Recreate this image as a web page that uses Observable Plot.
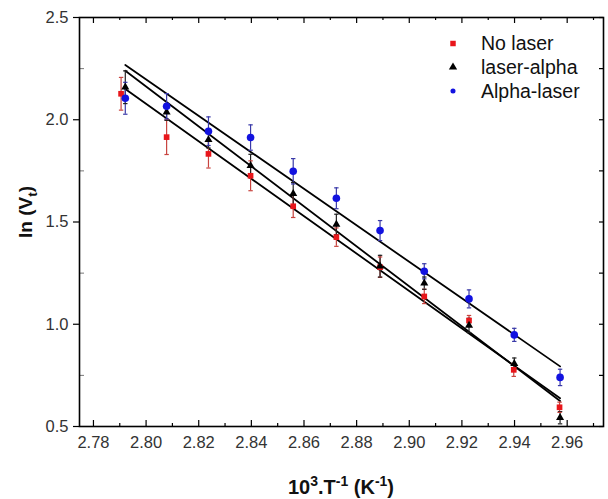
<!DOCTYPE html>
<html><head><meta charset="utf-8">
<script src="https://cdn.jsdelivr.net/npm/d3@7"></script>
<script src="https://cdn.jsdelivr.net/npm/@observablehq/plot@0.6"></script>
<style>
body{margin:0;background:#fff;}
#chart{width:608px;height:499px;}
</style></head><body><div id="chart"></div>
<script>
// ---- data ----
const seriesNames = ["No laser", "laser-alpha", "Alpha-laser"];
const invT = [2.7921, 2.8078, 2.8237, 2.8397, 2.8559, 2.8723, 2.8889, 2.9057, 2.9227, 2.9399, 2.9573];
const invTNoLaser = [2.7905, 2.8078, 2.8237, 2.8397, 2.8559, 2.8723, 2.8889, 2.9057, 2.9227, 2.9397, 2.9571];
const lnNoLaser = [2.127, 1.915, 1.833, 1.726, 1.577, 1.426, 1.279, 1.136, 1.018, 0.777, 0.594];
const errNoLaser = [0.080, 0.085, 0.069, 0.073, 0.055, 0.045, 0.050, 0.035, 0.025, 0.032, 0.025];
const lnLaserAlpha = [2.159, 2.037, 1.902, 1.776, 1.638, 1.488, 1.284, 1.201, 0.994, 0.807, 0.543];
const errLaserAlpha = [0.080, 0.040, 0.040, 0.055, 0.055, 0.050, 0.053, 0.030, 0.035, 0.028, 0.030];
const lnAlphaLaser = [2.105, 2.066, 1.944, 1.913, 1.748, 1.616, 1.458, 1.259, 1.124, 0.948, 0.740];
const errAlphaLaser = [0.078, 0.062, 0.070, 0.062, 0.062, 0.051, 0.049, 0.037, 0.044, 0.032, 0.040];
// linear fits: value at first and last temperature
const fitX = [2.7921, 2.9573];
const fitNoLaser = [2.150, 0.638];
const fitLaserAlpha = [2.240, 0.625];
const fitAlphaLaser = [2.268, 0.794];
const xTicks = [2.78, 2.80, 2.82, 2.84, 2.86, 2.88, 2.90, 2.92, 2.94, 2.96];
const xMinor = [2.79, 2.81, 2.83, 2.85, 2.87, 2.89, 2.91, 2.93, 2.95, 2.97];
const yTicks = [0.5, 1.0, 1.5, 2.0, 2.5];
const yMinor = [0.75, 1.25, 1.75, 2.25];

// ---- styling ----
const colors = {"No laser": "#e8161b", "laser-alpha": "#000000", "Alpha-laser": "#1212e0"};
const barColors = {"No laser": "#c8443f", "laser-alpha": "#222222", "Alpha-laser": "#3a3aa8"};
const symbols = {"No laser": "square", "laser-alpha": "triangle", "Alpha-laser": "circle"};
const radii = {"No laser": 3.2, "laser-alpha": 3.0, "Alpha-laser": 3.8};

const xs = [invTNoLaser, invT, invT];
const ys = [lnNoLaser, lnLaserAlpha, lnAlphaLaser];
const es = [errNoLaser, errLaserAlpha, errAlphaLaser];
const fits = [fitNoLaser, fitLaserAlpha, fitAlphaLaser];

const points = seriesNames.flatMap((s, k) => ys[k].map((v, i) => ({s, x: xs[k][i], y: v, e: es[k][i]})));
const fitRows = seriesNames.flatMap((s, k) => fitX.map((x, i) => ({s, x, y: fits[k][i]})));

const W = 608, H = 499, mL = 79, mR = 5, mT = 17, mB = 73;
const plotW = W - mL - mR, plotH = H - mT - mB;

const cap = {draw(context, size) { const w = Math.sqrt(size / Math.PI); context.moveTo(-w, 0); context.lineTo(w, 0); }};

const marks = [
  // ticks (inward), minor and major
  Plot.ruleX(xTicks, {x: d => d, insetTop: plotH - 6, stroke: "#000", strokeWidth: 1.2}),
  Plot.ruleX(xMinor, {x: d => d, insetTop: plotH - 3, stroke: "#000", strokeWidth: 1.2}),
  Plot.ruleX(xTicks, {x: d => d, insetBottom: plotH - 6, stroke: "#000", strokeWidth: 1.2}),
  Plot.ruleX(xMinor, {x: d => d, insetBottom: plotH - 3, stroke: "#000", strokeWidth: 1.2}),
  Plot.ruleY(yTicks, {y: d => d, insetLeft: -6, insetRight: plotW, stroke: "#000", strokeWidth: 1.2}),
  Plot.ruleY(yMinor, {y: d => d, insetRight: plotW - 5, stroke: "#777", strokeWidth: 1}),
  Plot.ruleY(yTicks, {y: d => d, insetLeft: plotW - 4, stroke: "#000", strokeWidth: 1.2}),
  Plot.ruleY(yMinor, {y: d => d, insetLeft: plotW - 4, stroke: "#000", strokeWidth: 1.2}),
  Plot.frame({stroke: "#000", strokeWidth: 1.6}),
  Plot.axisX({ticks: xTicks, tickFormat: d3.format(".2f"), tickSize: 0, tickPadding: 10, fontSize: 16.5, fill: "#333", label: null}),
  Plot.axisY({ticks: yTicks, tickFormat: d3.format(".1f"), tickSize: 0, tickPadding: 11, fontSize: 16.5, fill: "#333", label: null}),
  // fit lines
  Plot.line(fitRows, {x: "x", y: "y", z: "s", stroke: "#000", strokeWidth: 1.8}),
  // error bars
  Plot.ruleX(points, {x: "x", y1: d => d.y - d.e, y2: d => d.y + d.e, stroke: d => barColors[d.s], strokeWidth: 1.2}),
  Plot.dot(points, {x: "x", y: d => d.y + d.e, symbol: cap, r: 2.2, stroke: d => barColors[d.s], strokeWidth: 1.2, fill: "none"}),
  Plot.dot(points, {x: "x", y: d => d.y - d.e, symbol: cap, r: 2.2, stroke: d => barColors[d.s], strokeWidth: 1.2, fill: "none"}),
  // markers
  ...seriesNames.map(s => Plot.dot(points.filter(d => d.s === s), {x: "x", y: "y", symbol: symbols[s], r: radii[s], fill: colors[s], stroke: "none"}))
];

const svg = Plot.plot({
  width: W, height: H,
  marginLeft: mL, marginRight: mR, marginTop: mT, marginBottom: mB,
  style: {fontFamily: "'Liberation Sans', Arial, sans-serif", background: "#fff", overflow: "visible"},
  x: {domain: [2.7747, 2.9738]},
  y: {domain: [0.5, 2.5]},
  marks
});

const g = d3.select(svg);
// legend
const leg = g.append("g").attr("font-family", "'Liberation Sans', Arial, sans-serif").attr("font-size", 19.5).attr("text-anchor", "start");
const legSym = {"No laser": d3.symbolSquare, "laser-alpha": d3.symbolTriangle, "Alpha-laser": d3.symbolCircle};
const legSize = {"No laser": 30, "laser-alpha": 30, "Alpha-laser": 20};
seriesNames.forEach((s, i) => {
  const y = 43.5 + i * 23.7;
  leg.append("path").attr("d", d3.symbol(legSym[s], legSize[s])()).attr("transform", `translate(453,${y})`).attr("fill", colors[s]);
  leg.append("text").attr("x", 481).attr("y", y).attr("dy", "0.35em").attr("text-anchor", "start").attr("fill", "#111").text(s);
});
// axis titles
const xt = g.append("text").attr("x", 341).attr("y", 494).attr("text-anchor", "middle")
  .attr("font-family", "'Liberation Sans', Arial, sans-serif").attr("font-size", 20).attr("font-weight", "bold").attr("fill", "#111");
xt.append("tspan").text("10");
xt.append("tspan").attr("dy", -8).attr("font-size", 14).text("3");
xt.append("tspan").attr("dy", 8).text(".T");
xt.append("tspan").attr("dy", -8).attr("font-size", 14).text("-1");
xt.append("tspan").attr("dy", 8).text(" (K");
xt.append("tspan").attr("dy", -8).attr("font-size", 14).text("-1");
xt.append("tspan").attr("dy", 8).text(")");
const yt = g.append("text").attr("transform", "translate(32,212) rotate(-90)").attr("text-anchor", "middle")
  .attr("font-family", "'Liberation Sans', Arial, sans-serif").attr("font-size", 19).attr("font-weight", "bold").attr("fill", "#111");
yt.append("tspan").text("ln (V");
yt.append("tspan").attr("dy", 5).attr("font-size", 13.5).text("t");
yt.append("tspan").attr("dy", -5).text(")");

document.getElementById("chart").appendChild(svg);
</script></body></html>
